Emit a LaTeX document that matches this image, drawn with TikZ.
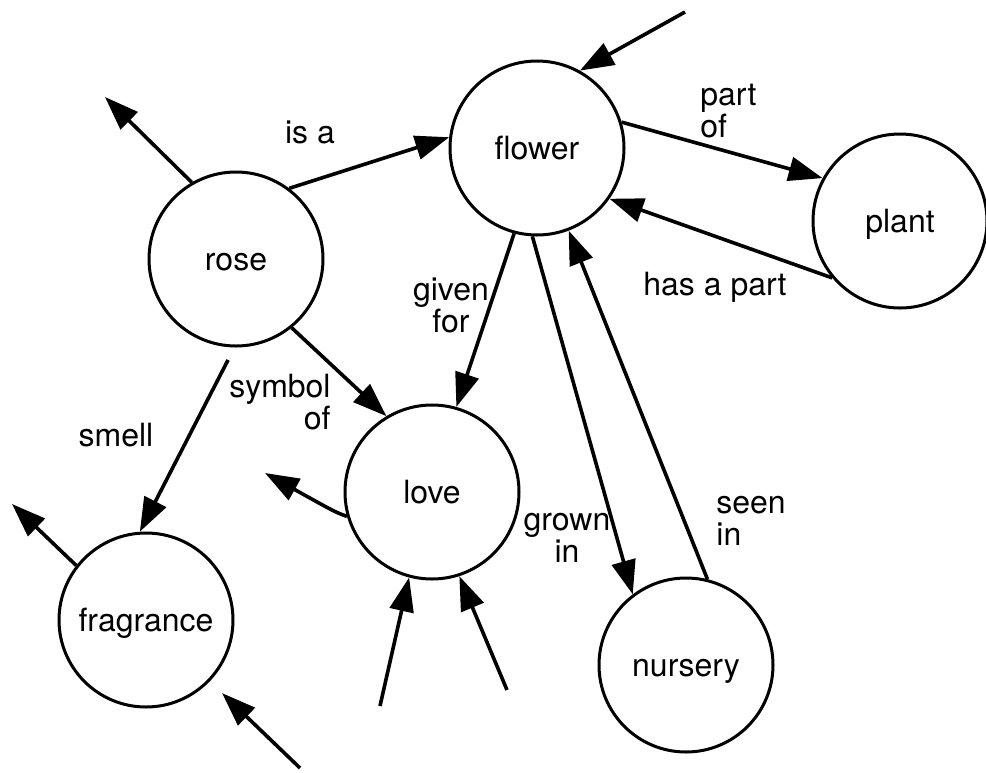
\documentclass[tikz,border=0pt]{standalone}
\usepackage{fontspec}
\setmainfont{TeX Gyre Heros}
\usetikzlibrary{arrows.meta}
\begin{document}
\begin{tikzpicture}[x=0.5pt,y=-0.5pt,
  concept/.style={circle,draw,line width=1.5pt,minimum size=87pt,inner sep=0pt,text height=11pt,text depth=0pt,font=\fontsize{16}{16}\selectfont},
  lbl/.style={font=\fontsize{16}{16}\selectfont,inner sep=0pt},
  arr/.style={line width=1.8pt,-{Triangle[length=17pt,width=12pt]}}]
\useasboundingbox[fill=white] (0,0) rectangle (986,772);
% concepts
\node[concept] (rose) at (236,259) {rose};
\node[concept] (flower) at (537,148) {flower};
\node[concept] (plant) at (900,221) {plant};
\node[concept] (love) at (432,492) {love};
\node[concept] (fragrance) at (146,620) {fragrance};
\node[concept] (nursery) at (686,665) {nursery};
% free ends
\coordinate (roseout) at (105,97);
\coordinate (flowerin) at (685,12);
\coordinate (loveout) at (265,473);
\coordinate (lovein1) at (380,706);
\coordinate (lovein2) at (507,690);
\coordinate (fragout) at (12,504);
\coordinate (fragin) at (300,768);
% connectors
\draw[arr] (rose.53) -- (flower.173);
\draw[arr] (flower.17) -- (plant.151);
\draw[arr] (plant.220) -- (flower.-35);
\draw[arr] (flower.-105) -- (love.74);
\draw[arr] (flower.-93) -- (nursery.127);
\draw[arr] (nursery.76) -- (flower.-69);
\draw[arr] (rose.-51) -- (love.121);
\draw[arr,shorten <=7pt] (rose.-91) -- (fragrance.94);
\draw[arr] (rose.120) -- (roseout);
\draw[arr] (flowerin) -- (flower.61);
\draw[arr] (love.196) .. controls (335,512) .. (loveout);
\draw[arr] (lovein1) -- (love.-105);
\draw[arr] (lovein2) -- (love.-72);
\draw[arr] (fragrance.142) -- (fragout);
\draw[arr,shorten >=8.5pt] (fragin) -- (fragrance);
% labels
\node[lbl] (lisa) at (310,132) {is a};
\node[lbl,align=left,anchor=west] (lpartof) at (700,111) {part\\of};
\node[lbl] (lhaspart) at (715,287) {has a part};
\node[lbl,align=center] (lgiven) at (451,305) {given\\for};
\node[lbl,align=right,anchor=east] (lsymbol) at (331,402) {symbol\\of};
\node[lbl] (lsmell) at (116,435) {smell};
\node[lbl,align=center] (lgrown) at (567,538) {grown\\in};
\node[lbl,align=left,anchor=west] (lseen) at (716,521) {seen\\in};
\end{tikzpicture}
\end{document}
